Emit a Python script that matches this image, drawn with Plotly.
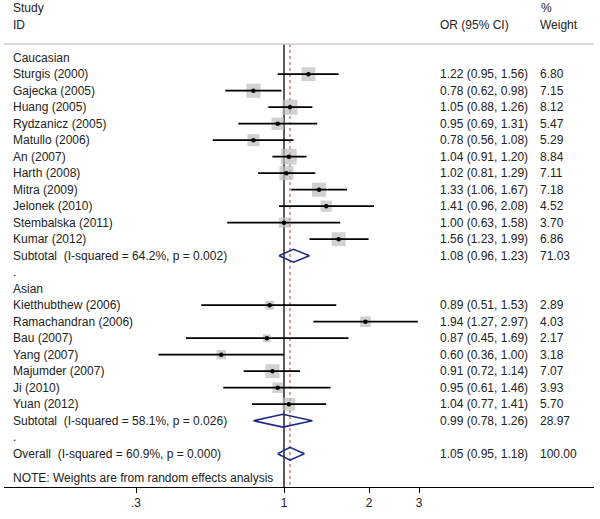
import math
import plotly.graph_objects as go

# ---------------- data ----------------
cauc_studies = ["Sturgis (2000)", "Gajecka (2005)", "Huang (2005)", "Rydzanicz (2005)",
                "Matullo (2006)", "An (2007)", "Harth (2008)", "Mitra (2009)",
                "Jelonek (2010)", "Stembalska (2011)", "Kumar (2012)"]
cauc_or = [1.22, 0.78, 1.05, 0.95, 0.78, 1.04, 1.02, 1.33, 1.41, 1.00, 1.56]
cauc_lo = [0.95, 0.62, 0.88, 0.69, 0.56, 0.91, 0.81, 1.06, 0.96, 0.63, 1.23]
cauc_hi = [1.56, 0.98, 1.26, 1.31, 1.08, 1.20, 1.29, 1.67, 2.08, 1.58, 1.99]
cauc_w = [6.80, 7.15, 8.12, 5.47, 5.29, 8.84, 7.11, 7.18, 4.52, 3.70, 6.86]

asian_studies = ["Kietthubthew (2006)", "Ramachandran (2006)", "Bau (2007)", "Yang (2007)",
                 "Majumder (2007)", "Ji (2010)", "Yuan (2012)"]
asian_or = [0.89, 1.94, 0.87, 0.60, 0.91, 0.95, 1.04]
asian_lo = [0.51, 1.27, 0.45, 0.36, 0.72, 0.61, 0.77]
asian_hi = [1.53, 2.97, 1.69, 1.00, 1.14, 1.46, 1.41]
asian_w = [2.89, 4.03, 2.17, 3.18, 7.07, 3.93, 5.70]

subtotal_labels = ["Subtotal  (I-squared = 64.2%, p = 0.002)",
                   "Subtotal  (I-squared = 58.1%, p = 0.026)"]
subtotal_or = [1.08, 0.99]
subtotal_lo = [0.96, 0.78]
subtotal_hi = [1.23, 1.26]
subtotal_w = [71.03, 28.97]

overall_label = "Overall  (I-squared = 60.9%, p = 0.000)"
overall_or = 1.05
overall_lo = 0.95
overall_hi = 1.18
overall_w = 100.00

group_names = ["Caucasian", "Asian"]
note_text = "NOTE: Weights are from random effects analysis"
tick_vals = [0.3, 1, 2, 3]
tick_text = [".3", "1", "2", "3"]

# ---------------- layout of rows ----------------
rows = []  # (label, or, lo, hi, w, kind)
rows.append((group_names[0], None, None, None, None, "group"))
for s, o, l, h, w in zip(cauc_studies, cauc_or, cauc_lo, cauc_hi, cauc_w):
    rows.append((s, o, l, h, w, "study"))
rows.append((subtotal_labels[0], subtotal_or[0], subtotal_lo[0], subtotal_hi[0], subtotal_w[0], "diamond"))
rows.append((".", None, None, None, None, "group"))
rows.append((group_names[1], None, None, None, None, "group"))
for s, o, l, h, w in zip(asian_studies, asian_or, asian_lo, asian_hi, asian_w):
    rows.append((s, o, l, h, w, "study"))
rows.append((subtotal_labels[1], subtotal_or[1], subtotal_lo[1], subtotal_hi[1], subtotal_w[1], "diamond"))
rows.append((".", None, None, None, None, "group"))
rows.append((overall_label, overall_or, overall_lo, overall_hi, overall_w, "diamond"))

W, H = 600, 519
ML, MR, MT, MB = 4, 6, 0, 32
x_one_px = 284.0
px_per_dec = 283.0
xr = [(ML - x_one_px) / px_per_dec, (W - MR - x_one_px) / px_per_dec]

row0_px = 57.7
row_step = 16.5
plot_h = H - MT - MB
y_top = -(row0_px - MT) / row_step
y_bot = y_top + plot_h / row_step
sep_y = y_top + (44 - MT) / row_step
note_y = (477.7 - row0_px) / row_step

def px_to_paper_x(px):
    return (px - ML) / (W - ML - MR)

TXT = "#222222"
FONT = "Liberation Sans, Arial, sans-serif"
FS = 12
NAVY = "#1f2a85"

fig = go.Figure()

# squares
sx, sy, ss = [], [], []
lx, ly = [], []
for i, (lab, o, l, h, w, kind) in enumerate(rows):
    if kind == "study":
        sx.append(o); sy.append(i); ss.append(5.3 * math.sqrt(w))
        lx += [l, h, None]; ly += [i, i, None]

fig.add_trace(go.Scatter(x=sx, y=sy, mode="markers",
                         marker=dict(symbol="square", size=ss, color="#bdbdbd",
                                     line=dict(width=0)),
                         hoverinfo="skip"))
fig.add_trace(go.Scatter(x=lx, y=ly, mode="lines",
                         line=dict(color="black", width=1.8), hoverinfo="skip"))
fig.add_trace(go.Scatter(x=sx, y=sy, mode="markers",
                         marker=dict(symbol="circle", size=4.5, color="black"),
                         hoverinfo="skip"))

# diamonds
dh = 0.39
for i, (lab, o, l, h, w, kind) in enumerate(rows):
    if kind == "diamond":
        fig.add_trace(go.Scatter(x=[l, o, h, o, l], y=[i, i - dh, i, i + dh, i],
                                 mode="lines", line=dict(color=NAVY, width=1.6),
                                 hoverinfo="skip"))

# reference lines
fig.add_shape(type="line", xref="x", yref="y", x0=1, x1=1, y0=sep_y, y1=y_bot,
              line=dict(color="black", width=1.3), layer="below")
fig.add_shape(type="line", xref="x", yref="y", x0=overall_or, x1=overall_or, y0=sep_y, y1=y_bot,
              line=dict(color="#c0392b", width=1, dash="3px,3px"), layer="below")
fig.add_shape(type="line", xref="paper", yref="y", x0=0, x1=1, y0=sep_y, y1=sep_y,
              line=dict(color="#cccccc", width=1.5))

# text
ann = []
def add_text(txt, px, y, yref="y"):
    ann.append(dict(text=txt, x=px_to_paper_x(px), xref="paper", y=y, yref=yref,
                    xanchor="left", yanchor="middle", showarrow=False,
                    font=dict(family=FONT, size=FS, color=TXT)))

def row_of_px(p):
    return y_top + (p - MT) / row_step

add_text("Study", 10.5, row_of_px(8))
add_text("ID", 10.5, row_of_px(25))
add_text("OR (95% CI)", 437.5, row_of_px(25))
add_text("%", 538.5, row_of_px(8))
add_text("Weight", 537.5, row_of_px(25))

for i, (lab, o, l, h, w, kind) in enumerate(rows):
    add_text(lab.replace("  ", "\u00a0\u00a0"), 10.5, i)
    if o is not None:
        add_text(f"{o:.2f} ({l:.2f}, {h:.2f})", 437.5, i)
        add_text(f"{w:.2f}", 537.5, i)

add_text(note_text, 10.5, note_y)

fig.update_layout(
    width=W, height=H,
    margin=dict(l=ML, r=MR, t=MT, b=MB),
    paper_bgcolor="white", plot_bgcolor="white",
    showlegend=False,
    annotations=ann,
    xaxis=dict(type="log", range=xr, showgrid=False, zeroline=False,
               showline=True, linecolor="black", linewidth=1,
               ticks="outside", ticklen=5, tickcolor="black", tickwidth=1,
               tickvals=tick_vals, ticktext=tick_text,
               tickfont=dict(family=FONT, size=FS, color=TXT), fixedrange=True),
    yaxis=dict(range=[y_bot, y_top], visible=False, fixedrange=True),
)

fig.write_html("out.html", config={"displayModeBar": False},
               post_script="document.body.style.margin='0';document.body.style.overflow='hidden';")
